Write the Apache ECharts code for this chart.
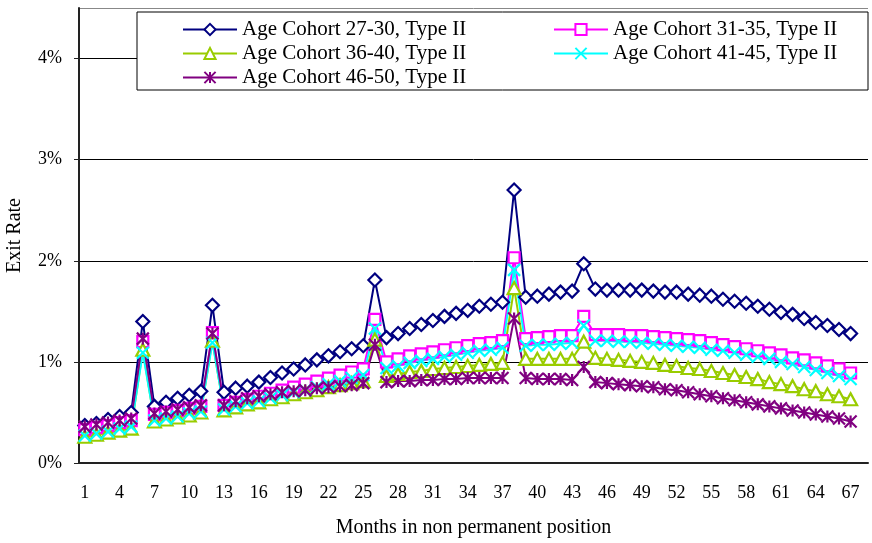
<!DOCTYPE html>
<html>
<head>
<meta charset="utf-8">
<script src="https://cdn.jsdelivr.net/npm/echarts@6/dist/echarts.min.js"></script>
<style>
  html, body { margin: 0; padding: 0; background: #fff; }
  #chart { width: 872px; height: 543px; }
</style>
</head>
<body>
<div id="chart"></div>
<script>
// months 1..68 (the last slot is empty in the original chart)
const months = [];
for (let m = 1; m <= 68; m++) months.push(String(m));

// exit rates, in %
const cohort27 = [0.37, 0.39, 0.43, 0.46, 0.50, 1.40, 0.56, 0.60, 0.64, 0.67, 0.71, 1.56, 0.70, 0.74, 0.76, 0.80, 0.845, 0.89, 0.93, 0.97,
  1.02, 1.06, 1.10, 1.13, 1.16, 1.81, 1.24, 1.28, 1.33, 1.37, 1.41, 1.45, 1.48, 1.51, 1.55, 1.57, 1.59, 2.70, 1.64, 1.65,
  1.67, 1.69, 1.70, 1.97, 1.72, 1.71, 1.71, 1.71, 1.71, 1.70, 1.69, 1.69, 1.67, 1.66, 1.65, 1.62, 1.60, 1.58, 1.55, 1.52,
  1.49, 1.47, 1.43, 1.39, 1.36, 1.32, 1.28];
const cohort31 = [0.33, 0.35, 0.37, 0.40, 0.42, 1.20, 0.48, 0.50, 0.52, 0.54, 0.56, 1.29, 0.57, 0.60, 0.63, 0.66, 0.69, 0.72, 0.75, 0.78,
  0.81, 0.84, 0.87, 0.90, 0.93, 1.42, 1.00, 1.03, 1.06, 1.08, 1.10, 1.12, 1.14, 1.16, 1.18, 1.19, 1.21, 2.03, 1.23, 1.24,
  1.25, 1.26, 1.26, 1.45, 1.27, 1.27, 1.27, 1.26, 1.26, 1.25, 1.24, 1.23, 1.22, 1.21, 1.19, 1.17, 1.15, 1.13, 1.11, 1.09,
  1.07, 1.04, 1.02, 0.99, 0.96, 0.93, 0.89];
const cohort36 = [0.26, 0.28, 0.30, 0.32, 0.34, 1.12, 0.41, 0.43, 0.45, 0.47, 0.50, 1.21, 0.52, 0.55, 0.58, 0.60, 0.63, 0.65, 0.68, 0.70,
  0.72, 0.75, 0.77, 0.79, 0.81, 1.22, 0.86, 0.88, 0.90, 0.91, 0.93, 0.94, 0.95, 0.96, 0.97, 0.98, 0.99, 1.73, 1.03, 1.03,
  1.03, 1.03, 1.03, 1.20, 1.04, 1.03, 1.02, 1.01, 1.00, 0.99, 0.97, 0.96, 0.94, 0.93, 0.91, 0.89, 0.87, 0.85, 0.83, 0.80,
  0.78, 0.76, 0.73, 0.71, 0.68, 0.66, 0.63];
const cohort41 = [0.27, 0.29, 0.31, 0.34, 0.36, 1.09, 0.42, 0.44, 0.46, 0.49, 0.51, 1.19, 0.53, 0.56, 0.59, 0.61, 0.64, 0.67, 0.70, 0.72,
  0.75, 0.78, 0.81, 0.84, 0.87, 1.33, 0.94, 0.96, 0.99, 1.01, 1.03, 1.05, 1.07, 1.09, 1.11, 1.12, 1.14, 1.91, 1.16, 1.17,
  1.17, 1.18, 1.19, 1.36, 1.21, 1.21, 1.20, 1.20, 1.19, 1.18, 1.17, 1.16, 1.15, 1.14, 1.12, 1.11, 1.09, 1.07, 1.05, 1.03,
  1.00, 0.98, 0.95, 0.92, 0.89, 0.86, 0.83];
const cohort46 = [0.36, 0.38, 0.40, 0.42, 0.44, 1.23, 0.49, 0.51, 0.53, 0.55, 0.57, 1.28, 0.57, 0.61, 0.64, 0.66, 0.68, 0.70, 0.71, 0.72,
  0.74, 0.75, 0.76, 0.77, 0.79, 1.17, 0.80, 0.81, 0.81, 0.82, 0.82, 0.83, 0.83, 0.84, 0.84, 0.84, 0.84, 1.43, 0.84, 0.83,
  0.83, 0.83, 0.82, 0.95, 0.80, 0.79, 0.78, 0.77, 0.76, 0.75, 0.73, 0.72, 0.70, 0.68, 0.66, 0.64, 0.62, 0.60, 0.58, 0.56,
  0.54, 0.52, 0.50, 0.48, 0.46, 0.44, 0.41];

const FONT = '"Liberation Serif", "Times New Roman", serif';
const xMark = 'path://M0,0L10,10M10,0L0,10';
const starMark = 'path://M5,0L5,10M0,0L10,10M10,0L0,10';

function mkSeries(name, data, color, symbol, hollow) {
    return {
        name: name,
        type: 'line',
        data: data,
        symbol: symbol,
        symbolSize: 12,
        showAllSymbol: true,
        lineStyle: { color: color, width: 2 },
        itemStyle: {
            color: hollow ? '#fff' : color,
            borderColor: color,
            borderWidth: 2.2
        },
        emphasis: { disabled: true },
        animation: false
    };
}

const seriesList = [
    mkSeries('Age Cohort 27-30, Type II', cohort27, '#000080', 'diamond', true),
    mkSeries('Age Cohort 31-35, Type II', cohort31, '#ff00ff', 'rect', true),
    mkSeries('Age Cohort 36-40, Type II', cohort36, '#99cc00', 'triangle', true),
    mkSeries('Age Cohort 41-45, Type II', cohort41, '#00ffff', xMark, false),
    mkSeries('Age Cohort 46-50, Type II', cohort46, '#800080', starMark, false)
];
seriesList[0].symbolSize = 13;
seriesList[1].symbolSize = 11;
seriesList[2].symbolSize = [13, 12];

const legendBase = {
    orient: 'vertical',
    top: 19,
    padding: 0,
    itemWidth: 54,
    itemHeight: 14,
    itemGap: 3,
    z: 10,
    textStyle: { fontFamily: FONT, fontSize: 21, color: '#000' }
};

const chart = echarts.init(document.getElementById('chart'));
chart.setOption({
    backgroundColor: '#fff',
    animation: false,
    textStyle: { fontFamily: FONT },
    grid: { left: 79, right: 4, top: 8, bottom: 80, outerBoundsMode: 'none', containLabel: false },
    graphic: [{
        type: 'rect',
        z: 5,
        shape: { x: 137, y: 12, width: 731, height: 78 },
        style: { fill: '#fff', stroke: '#000', lineWidth: 1 }
    }],
    legend: [
        Object.assign({ left: 182, data: [seriesList[0].name, seriesList[2].name, seriesList[4].name] }, legendBase),
        Object.assign({ left: 553, data: [seriesList[1].name, seriesList[3].name] }, legendBase)
    ],
    xAxis: {
        type: 'category',
        data: months,
        boundaryGap: true,
        name: 'Months in non permanent position',
        nameLocation: 'middle',
        nameGap: 55,
        nameTextStyle: { fontFamily: FONT, fontSize: 20, color: '#000' },
        axisLine: { lineStyle: { color: '#222', width: 2 } },
        axisTick: { interval: 1, length: 5, lineStyle: { color: '#222' } },
        axisLabel: { interval: 2, margin: 21, fontFamily: FONT, fontSize: 18, color: '#000' },
        splitLine: { show: false }
    },
    yAxis: {
        type: 'value',
        min: 0,
        max: 4.5,
        interval: 1,
        name: 'Exit Rate',
        nameLocation: 'middle',
        nameRotate: 90,
        nameGap: 54,
        nameTextStyle: { fontFamily: FONT, fontSize: 20, color: '#000' },
        axisLine: { show: true, lineStyle: { color: '#222', width: 2 } },
        axisTick: { show: true, length: 5, lineStyle: { color: '#222' } },
        axisLabel: {
            margin: 17,
            fontFamily: FONT,
            fontSize: 18,
            color: '#000',
            showMaxLabel: false,
            formatter: v => (v % 1 === 0 ? v + '%' : '')
        },
        splitLine: {
            show: true,
            lineStyle: { color: ['#000', '#000', '#000', '#000', '#000', '#888'], width: 1 }
        }
    },
    series: seriesList
});
</script>
</body>
</html>
